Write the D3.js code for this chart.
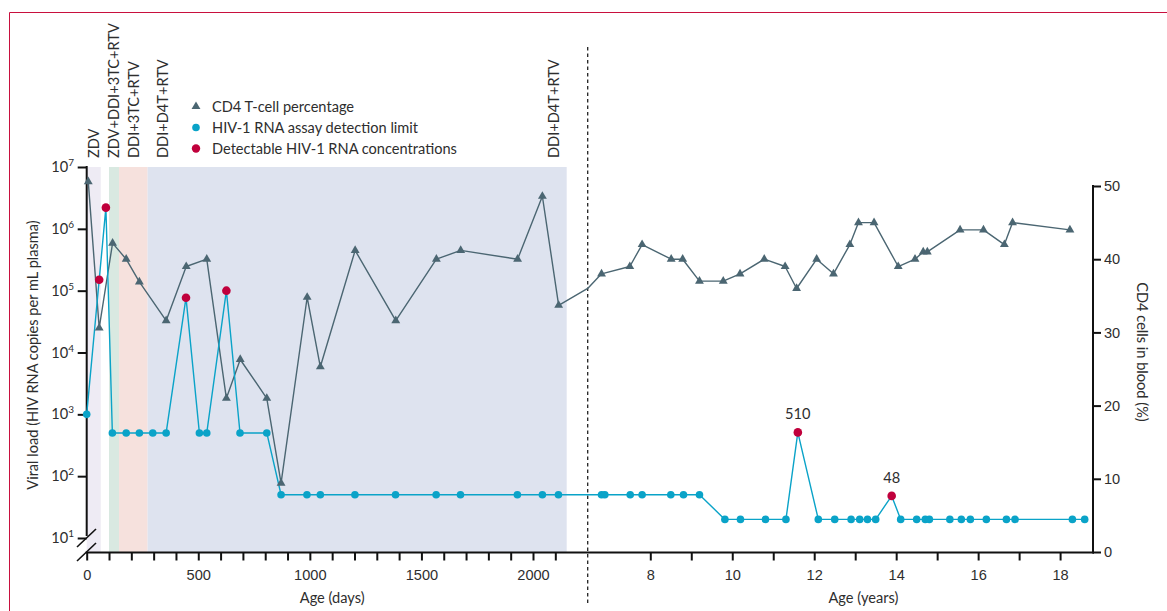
<!DOCTYPE html>
<html>
<head>
<meta charset="utf-8">
<script src="https://cdn.jsdelivr.net/npm/d3@7"></script>
<style>
  html, body { margin: 0; padding: 0; background: #fff; }
  svg { display: block; font-family: Lato, "Open Sans", sans-serif; }
</style>
</head>
<body>
<svg id="chart" width="1167" height="611"></svg>
<script>
// Antiretroviral regimens, in days of age
const regimenNames = ["ZDV", "ZDV+DDI+3TC+RTV", "DDI+3TC+RTV", "DDI+D4T+RTV"];
const regimenStart = [0, 100, 145, 273];
const regimenEnd = [63, 145, 273, 2151];
const regimenFill = ["#eeebf4", "#d9e9e1", "#f6e1dd", "#dee3ef"];

// CD4 T-cell percentage during the first years (age in days)
const cd4Days = [7, 56, 116, 177, 236, 356, 446, 538, 626, 688, 807, 871, 988, 1047, 1203, 1385, 1567, 1676, 1931, 2042, 2115];
const cd4DayValues = [50.6, 30.6, 42.2, 40.0, 36.9, 31.6, 39.0, 40.0, 21.0, 26.3, 21.0, 9.4, 34.8, 25.3, 41.2, 31.6, 40.0, 41.2, 40.0, 48.6, 33.7];
// CD4 value where the line crosses the change of time unit
const cd4AtBreak = 36.0;
// CD4 T-cell percentage later on (age in years)
const cd4Years = [6.81, 7.50, 7.80, 8.51, 8.79, 9.20, 9.78, 10.19, 10.78, 11.29, 11.57, 12.06, 12.47, 12.87, 13.08, 13.46, 14.05, 14.46, 14.66, 14.76, 15.56, 16.13, 16.64, 16.84, 18.24];
const cd4YearValues = [38.0, 39.0, 42.0, 40.0, 40.0, 37.0, 37.0, 38.0, 40.0, 39.0, 36.0, 40.0, 38.0, 42.0, 45.0, 45.0, 39.0, 40.0, 41.0, 41.0, 44.0, 44.0, 42.0, 45.0, 44.0];

// HIV-1 RNA (copies per mL plasma), first years (age in days)
const vlDays = [0, 56, 86, 115, 177, 236, 296, 356, 445, 505, 538, 626, 687, 807, 871, 987, 1047, 1202, 1384, 1566, 1675, 1930, 2042, 2114];
const vlDayValues = [1000, 150000, 2200000, 500, 500, 500, 500, 500, 77000, 500, 500, 100000, 500, 500, 50, 50, 50, 50, 50, 50, 50, 50, 50, 50];
const vlDayDetectable = [false, true, true, false, false, false, false, false, true, false, false, true, false, false, false, false, false, false, false, false, false, false, false, false];
// HIV-1 RNA later on (age in years)
const vlYears = [6.81, 6.89, 7.51, 7.80, 8.50, 8.81, 9.20, 9.82, 10.20, 10.81, 11.31, 11.60, 12.10, 12.50, 12.90, 13.11, 13.30, 13.50, 13.89, 14.11, 14.50, 14.71, 14.81, 15.31, 15.59, 15.81, 16.20, 16.69, 16.90, 18.30, 18.60];
const vlYearValues = [50, 50, 50, 50, 50, 50, 50, 20, 20, 20, 20, 510, 20, 20, 20, 20, 20, 20, 48, 20, 20, 20, 20, 20, 20, 20, 20, 20, 20, 20, 20];
const vlYearDetectable = vlYearValues.map(v => v === 510 || v === 48);
const vlLabelled = [510, 48];

// Axis ticks
const dayTicks = d3.range(0, 2101, 100);
const dayTickLabels = [0, 500, 1000, 1500, 2000];
const yearTicks = d3.range(8, 19, 1);
const yearTickLabels = [8, 10, 12, 14, 16, 18];
const vlTickExponents = [1, 2, 3, 4, 5, 6, 7];
const cd4Ticks = [0, 10, 20, 30, 40, 50];

const legendLabels = ["CD4 T-cell percentage", "HIV-1 RNA assay detection limit", "Detectable HIV-1 RNA concentrations"];

// Colours and type
const cInk = "#2e2e2e";
const cCd4 = "#4b6672";
const cVl = "#0aa3c8";
const cDetect = "#c0003c";
const cFrame = "#c8103e";
const fs = 14.6;

const svg = d3.select("#chart");

// Scales: the horizontal axis switches from days to years at the dashed line
const breakX = 587.7;
const xDays = d3.scaleLinear().domain([0, 2000]).range([86.7, 533]);
const xYears = d3.scaleLinear().domain([8, 18]).range([650.3, 1060.1]);
const yVL = d3.scaleLog().domain([10, 1e7]).range([538, 167]);
const yCD4 = d3.scaleLinear().domain([0, 50]).range([552, 186]);
const axisY = 552.5;
const leftX = xDays(0);
const rightX = 1093;

// Outer frame
svg.append("line").attr("x1", 9.5).attr("x2", 1167).attr("y1", 12.5).attr("y2", 12.5)
  .attr("stroke", cFrame).attr("stroke-width", 1);
svg.append("line").attr("x1", 9.5).attr("x2", 9.5).attr("y1", 12.5).attr("y2", 611)
  .attr("stroke", cFrame).attr("stroke-width", 1);

// Treatment bands
const bands = regimenNames.map((n, i) => ({ name: n, start: regimenStart[i], end: regimenEnd[i], fill: regimenFill[i] }));
svg.append("g").selectAll("rect").data(bands).join("rect")
  .attr("x", d => xDays(d.start))
  .attr("width", d => xDays(d.end) - xDays(d.start))
  .attr("y", yVL(1e7))
  .attr("height", axisY - yVL(1e7))
  .attr("fill", d => d.fill);

// Treatment labels (vertical)
const labelBottom = 158;
const bandLabels = [
  { text: bands[0].name, x: xDays((bands[0].start + bands[0].end) / 2) },
  { text: bands[1].name, x: xDays((bands[1].start + bands[1].end) / 2) },
  { text: bands[2].name, x: xDays((bands[2].start + bands[2].end) / 2) },
  { text: bands[3].name, x: xDays(bands[3].start) + 15 },
  { text: bands[3].name, x: xDays(bands[3].end) - 13 }
];
svg.append("g").selectAll("text").data(bandLabels).join("text")
  .attr("transform", d => `translate(${d.x},${labelBottom}) rotate(-90)`)
  .attr("dy", "0.36em")
  .attr("fill", cInk)
  .attr("font-size", fs)
  .text(d => d.text);

// Dashed divider between the two time units
svg.append("line")
  .attr("x1", breakX).attr("x2", breakX).attr("y1", 47).attr("y2", 606)
  .attr("stroke", "#222").attr("stroke-width", 1.3).attr("stroke-dasharray", "3.5,3");

// Axes ----------------------------------------------------------
const axisStroke = 2;

// bottom axis line
svg.append("line").attr("x1", leftX - 1).attr("x2", rightX + 1).attr("y1", axisY).attr("y2", axisY)
  .attr("stroke", "#111").attr("stroke-width", axisStroke);

function styleAxis(g) {
  g.select(".domain").remove();
  g.selectAll(".tick line").attr("stroke", "#111").attr("stroke-width", axisStroke);
  g.selectAll(".tick text").attr("fill", cInk).attr("font-size", fs).attr("font-family", null);
}

svg.append("g").attr("transform", `translate(0,${axisY})`)
  .call(d3.axisBottom(xDays).tickValues(dayTicks).tickSize(8).tickPadding(9)
    .tickFormat(d => dayTickLabels.includes(d) ? d : ""))
  .call(styleAxis);

svg.append("g").attr("transform", `translate(0,${axisY})`)
  .call(d3.axisBottom(xYears).tickValues(yearTicks).tickSize(8).tickPadding(9)
    .tickFormat(d => yearTickLabels.includes(d) ? d : ""))
  .call(styleAxis);

svg.append("text").attr("x", xDays(1100)).attr("y", 603).attr("text-anchor", "middle")
  .attr("fill", cInk).attr("font-size", fs).text("Age (days)");
svg.append("text").attr("x", xYears(13.2)).attr("y", 603).attr("text-anchor", "middle")
  .attr("fill", cInk).attr("font-size", fs).text("Age (years)");

// left (log) axis with a break below 10^1
svg.append("line").attr("x1", leftX).attr("x2", leftX).attr("y1", yVL(1e7) - 1).attr("y2", 536)
  .attr("stroke", "#111").attr("stroke-width", axisStroke);
svg.append("g").attr("transform", `translate(${leftX},0)`)
  .call(d3.axisLeft(yVL).tickValues(vlTickExponents.map(e => Math.pow(10, e))).tickSize(9).tickFormat(""))
  .call(styleAxis);
const vlLabels = svg.append("g").selectAll("text").data(vlTickExponents).join("text")
  .attr("x", 74).attr("y", e => yVL(Math.pow(10, e)) + 5)
  .attr("text-anchor", "end").attr("fill", cInk).attr("font-size", fs);
vlLabels.append("tspan").text("10");
vlLabels.append("tspan").attr("font-size", 10).attr("dy", -6).text(e => e);

// break marks
[[547, 529], [561, 543]].forEach(([yb, yt]) => {
  svg.append("line").attr("x1", 77).attr("y1", yb).attr("x2", 96).attr("y2", yt)
    .attr("stroke", "#111").attr("stroke-width", 1.6);
});

svg.append("text")
  .attr("transform", `translate(33,355) rotate(-90)`)
  .attr("dy", "0.35em").attr("text-anchor", "middle")
  .attr("fill", cInk).attr("font-size", fs)
  .text("Viral load (HIV RNA copies per mL plasma)");

// right (CD4 %) axis
svg.append("line").attr("x1", rightX).attr("x2", rightX).attr("y1", yCD4(50) - 1).attr("y2", axisY + 1)
  .attr("stroke", "#111").attr("stroke-width", axisStroke);
svg.append("g").attr("transform", `translate(${rightX},0)`)
  .call(d3.axisRight(yCD4).tickValues(cd4Ticks).tickSize(8).tickPadding(3))
  .call(styleAxis);

svg.append("text")
  .attr("transform", `translate(1142,352) rotate(90)`)
  .attr("dy", "0.35em").attr("text-anchor", "middle")
  .attr("fill", cInk).attr("font-size", fs)
  .text("CD4 cells in blood (%)");

// Data series ---------------------------------------------------
const cd4Points = [
  ...cd4Days.map((d, i) => ({ x: xDays(d), y: yCD4(cd4DayValues[i]), marker: true })),
  { x: breakX, y: yCD4(cd4AtBreak), marker: false },
  ...cd4Years.map((d, i) => ({ x: xYears(d), y: yCD4(cd4YearValues[i]), marker: true }))
];
const vlPoints = [
  ...vlDays.map((d, i) => ({ x: xDays(d), y: yVL(vlDayValues[i]), v: vlDayValues[i], det: vlDayDetectable[i] })),
  ...vlYears.map((d, i) => ({ x: xYears(d), y: yVL(vlYearValues[i]), v: vlYearValues[i], det: vlYearDetectable[i] }))
];

const line = d3.line().x(d => d.x).y(d => d.y);

svg.append("path").datum(cd4Points).attr("d", line)
  .attr("fill", "none").attr("stroke", cCd4).attr("stroke-width", 1.4).attr("stroke-linejoin", "round");

svg.append("path").datum(vlPoints).attr("d", line)
  .attr("fill", "none").attr("stroke", cVl).attr("stroke-width", 1.4).attr("stroke-linejoin", "round");

const tri = d3.symbol().type(d3.symbolTriangle).size(34);
svg.append("g").selectAll("path").data(cd4Points.filter(p => p.marker)).join("path")
  .attr("transform", d => `translate(${d.x},${d.y})`)
  .attr("d", tri).attr("fill", cCd4);

svg.append("g").selectAll("circle").data(vlPoints).join("circle")
  .attr("cx", d => d.x).attr("cy", d => d.y)
  .attr("r", d => d.det ? 4.3 : 3.8)
  .attr("fill", d => d.det ? cDetect : cVl);

svg.append("g").selectAll("text").data(vlPoints.filter((p, i) => i >= vlDays.length && vlLabelled.includes(p.v))).join("text")
  .attr("x", d => d.x).attr("y", d => d.y - 13)
  .attr("text-anchor", "middle").attr("fill", cInk).attr("font-size", fs)
  .text(d => d.v);

// Legend ----------------------------------------------------------
const legend = svg.append("g").attr("transform", "translate(196,106.5)");
const legendRows = legend.selectAll("g").data(legendLabels).join("g")
  .attr("transform", (d, i) => `translate(0,${i * 21})`);
legendRows.filter((d, i) => i === 0).append("path").attr("d", tri).attr("fill", cCd4);
legendRows.filter((d, i) => i === 1).append("circle").attr("r", 3.8).attr("fill", cVl);
legendRows.filter((d, i) => i === 2).append("circle").attr("r", 4.2).attr("fill", cDetect);
legendRows.append("text").attr("x", 16).attr("dy", "0.35em")
  .attr("fill", cInk).attr("font-size", fs).text(d => d);
</script>
</body>
</html>
